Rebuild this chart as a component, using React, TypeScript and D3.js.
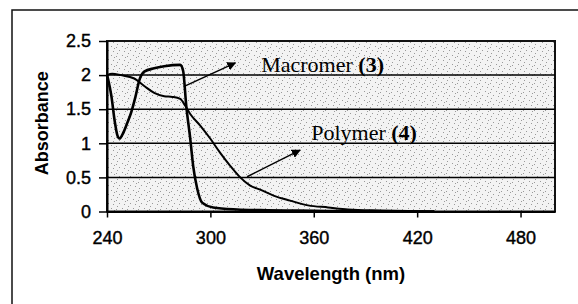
import React, { useEffect, useRef } from 'react';
import * as d3 from 'd3';

// wavelength (nm) / absorbance
const macromerNm = [240, 241, 242.5, 244.5, 246, 247.3, 249, 251.8, 254, 256.5, 258.7, 261.6, 267.4, 273.2, 282.5, 284.2, 286, 288.3, 290, 292.3, 295.2, 301.6, 315.6, 329, 360, 400, 430];
const macromerAbs = [2.0, 1.9, 1.7, 1.32, 1.12, 1.07, 1.13, 1.3, 1.45, 1.68, 1.92, 2.05, 2.1, 2.13, 2.15, 2.06, 1.55, 1.07, 0.67, 0.34, 0.13, 0.06, 0.03, 0.02, 0.01, 0.0, 0.0];

const polymerNm = [240, 243, 248, 255.8, 261.6, 267.4, 273.2, 278, 282.5, 285.4, 288.3, 294.1, 299.9, 305.7, 311.5, 317.3, 323.1, 328.9, 337, 346.3, 356.7, 368.3, 379.9, 399, 430];
const polymerAbs = [2.0, 2.02, 2.0, 1.95, 1.84, 1.74, 1.69, 1.68, 1.65, 1.55, 1.43, 1.26, 1.07, 0.86, 0.67, 0.5, 0.38, 0.32, 0.23, 0.16, 0.09, 0.06, 0.03, 0.015, 0.0];

const xTicks = [240, 300, 360, 420, 480];
const yTicks = [0, 0.5, 1, 1.5, 2, 2.5];

// annotations: label, text anchor [nm, abs], arrow from -> to
const labels = [
	{ name: 'Macromer ', num: '(3)', at: [329.5, 2.05], from: [284.5, 1.83], to: [314.5, 2.18] },
	{ name: 'Polymer ', num: '(4)', at: [358.5, 1.05], from: [321.3, 0.51], to: [352, 0.9] },
];

const App: React.FC = () => {
	const svgRef = useRef<SVGSVGElement | null>(null);

	useEffect(() => {
		if (!svgRef.current) return;
		const width = 578;
		const height = 304;
		const m = { left: 107, right: 555, top: 41, bottom: 211.5 };

		const x = d3.scaleLinear().domain([240, 500]).range([m.left, m.right]);
		const y = d3.scaleLinear().domain([0, 2.5]).range([m.bottom, m.top]);

		const svg = d3.select(svgRef.current);
		svg.selectAll('*').remove();
		svg.attr('width', width).attr('height', height);

		const defs = svg.append('defs');
		// speckled grey fill like the scanned chart
		const pat = defs
			.append('pattern')
			.attr('id', 'stip')
			.attr('width', 11)
			.attr('height', 9)
			.attr('patternUnits', 'userSpaceOnUse');
		pat.append('rect').attr('width', 11).attr('height', 9).attr('fill', '#f3f3f3');
		[
			[1, 1],
			[6, 2],
			[9, 5],
			[3, 6],
			[7, 8],
			[4, 3],
		].forEach(([px, py]) => {
			pat.append('rect').attr('x', px).attr('y', py).attr('width', 1).attr('height', 1).attr('fill', '#9a9a9a');
		});
		defs
			.append('marker')
			.attr('id', 'arr')
			.attr('viewBox', '0 0 10 10')
			.attr('refX', 9)
			.attr('refY', 5)
			.attr('markerWidth', 6)
			.attr('markerHeight', 6)
			.attr('markerUnits', 'strokeWidth')
			.attr('orient', 'auto')
			.append('path')
			.attr('d', 'M0,0 L10,5 L0,10 z')
			.attr('fill', '#000');

		svg.append('rect').attr('width', width).attr('height', height).attr('fill', '#fff');

		// outer frame (runs off the picture on right and bottom)
		svg
			.append('rect')
			.attr('x', 12)
			.attr('y', 10)
			.attr('width', 700)
			.attr('height', 500)
			.attr('fill', 'none')
			.attr('stroke', '#111')
			.attr('stroke-width', 1.5);

		// plot area
		svg
			.append('rect')
			.attr('x', m.left)
			.attr('y', m.top)
			.attr('width', m.right - m.left)
			.attr('height', m.bottom - m.top)
			.attr('fill', 'url(#stip)')
			.attr('stroke', '#111')
			.attr('stroke-width', 2);

		svg
			.append('g')
			.selectAll('line')
			.data(yTicks.filter((d) => d > 0 && d < 2.5))
			.join('line')
			.attr('x1', m.left)
			.attr('x2', m.right)
			.attr('y1', (d) => y(d))
			.attr('y2', (d) => y(d))
			.attr('stroke', '#000')
			.attr('stroke-width', 1.5);

		// axes
		const xAxis = svg
			.append('g')
			.attr('transform', `translate(0,${m.bottom})`)
			.call(d3.axisBottom(x).tickValues(xTicks).tickSize(6).tickPadding(14).tickSizeOuter(0));
		xAxis.select('.domain').attr('stroke-width', 2);
		xAxis.selectAll('line').attr('stroke-width', 1.5);
		xAxis
			.selectAll('text')
			.attr('font-family', 'Arial, "Liberation Sans", sans-serif')
			.attr('font-size', 18)
			.attr('fill', '#000')
			.attr('stroke', '#000')
			.attr('stroke-width', 0.4);

		const yAxis = svg
			.append('g')
			.attr('transform', `translate(${m.left},0)`)
			.call(
				d3
					.axisLeft(y)
					.tickValues(yTicks)
					.tickSize(8)
					.tickPadding(8)
					.tickSizeOuter(0)
					.tickFormat((d) => String(d)),
			);
		yAxis.select('.domain').attr('stroke-width', 2);
		yAxis.selectAll('line').attr('stroke-width', 1.5);
		yAxis
			.selectAll('text')
			.attr('font-family', 'Arial, "Liberation Sans", sans-serif')
			.attr('font-size', 18)
			.attr('fill', '#000')
			.attr('stroke', '#000')
			.attr('stroke-width', 0.4);

		// curves
		const line = d3
			.line<[number, number]>()
			.x((d) => x(d[0]))
			.y((d) => y(d[1]))
			.curve(d3.curveMonotoneX);

		svg
			.append('path')
			.attr('d', line(polymerNm.map((d, i) => [d, polymerAbs[i]])))
			.attr('fill', 'none')
			.attr('stroke', '#000')
			.attr('stroke-width', 2);

		svg
			.append('path')
			.attr('d', line(macromerNm.map((d, i) => [d, macromerAbs[i]])))
			.attr('fill', 'none')
			.attr('stroke', '#000')
			.attr('stroke-width', 2.6);

		// annotations
		labels.forEach((l) => {
			svg
				.append('line')
				.attr('x1', x(l.from[0]))
				.attr('y1', y(l.from[1]))
				.attr('x2', x(l.to[0]))
				.attr('y2', y(l.to[1]))
				.attr('stroke', '#000')
				.attr('stroke-width', 1.5)
				.attr('marker-end', 'url(#arr)');
			const t = svg
				.append('text')
				.attr('x', x(l.at[0]))
				.attr('y', y(l.at[1]))
				.attr('font-family', '"Times New Roman", "Liberation Serif", serif')
				.attr('font-size', 22)
				.attr('fill', '#000');
			t.append('tspan').text(l.name);
			t.append('tspan').attr('font-weight', 'bold').text(l.num);
		});

		// axis titles
		svg
			.append('text')
			.attr('x', (m.left + m.right) / 2)
			.attr('y', 280)
			.attr('text-anchor', 'middle')
			.attr('font-family', 'Arial, "Liberation Sans", sans-serif')
			.attr('font-weight', 'bold')
			.attr('font-size', 18.5)
			.text('Wavelength (nm)');

		svg
			.append('text')
			.attr('transform', `translate(48,${(m.top + m.bottom) / 2 - 3}) rotate(-90)`)
			.attr('text-anchor', 'middle')
			.attr('font-family', 'Arial, "Liberation Sans", sans-serif')
			.attr('font-weight', 'bold')
			.attr('font-size', 18)
			.text('Absorbance');
	}, []);

	return <svg ref={svgRef} style={{ position: 'absolute', left: 0, top: 0, display: 'block' }}></svg>;
};

export default App;
